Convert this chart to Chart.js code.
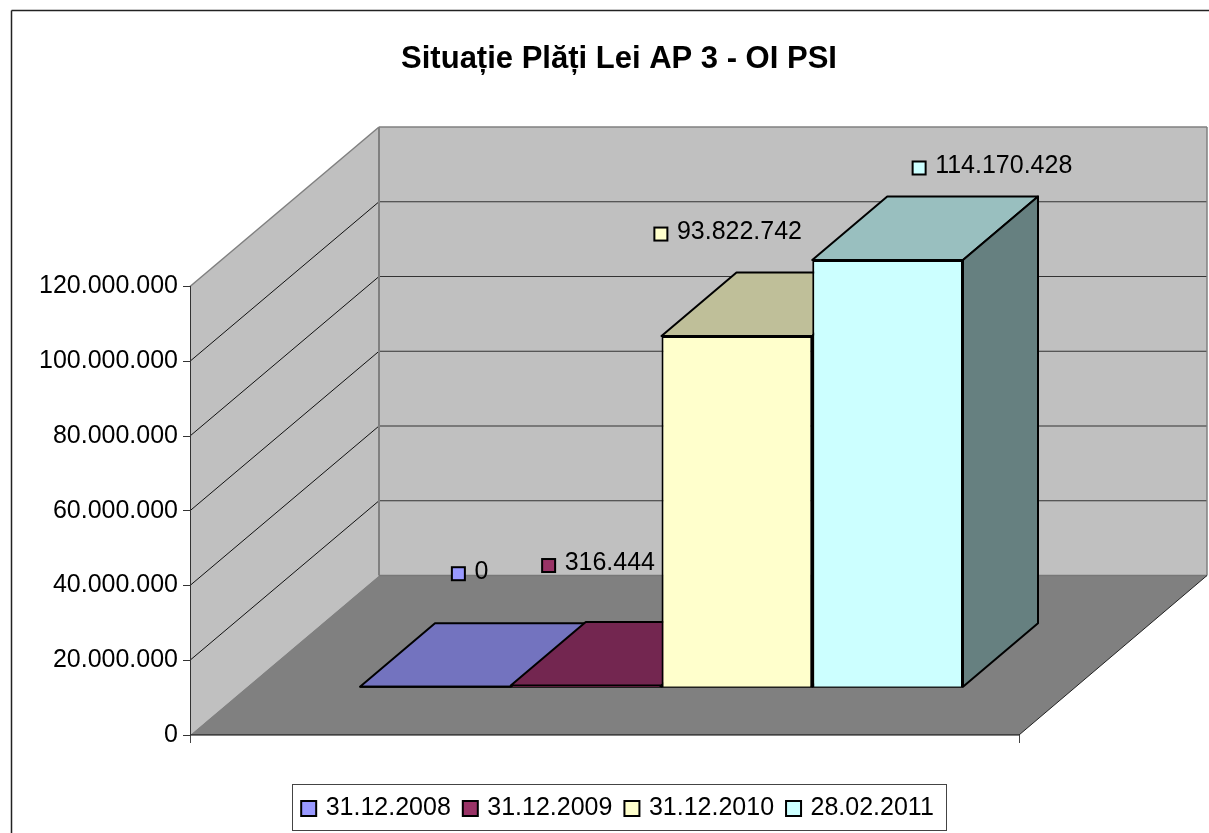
<!DOCTYPE html>
<html>
<head>
<meta charset="utf-8">
<script src="https://cdn.jsdelivr.net/npm/chart.js@4/dist/chart.umd.js"></script>
<style>html,body{margin:0;padding:0;background:#fff}canvas{display:block}</style>
</head>
<body>
<canvas id="c" width="1209" height="833"></canvas>
<script>
const titleText = 'Situație Plăți Lei AP 3 - OI PSI';
const category = ['Plăți'];
const seriesNames = ['31.12.2008', '31.12.2009', '31.12.2010', '28.02.2011'];
const seriesValues = [0, 316444, 93822742, 114170428];
const seriesColors = ['#9999FF', '#993366', '#FFFFCC', '#CCFFFF'];
const topColors = ['#7373BF', '#732650', '#BFBF99', '#99BFBF'];
const sideColors = ['#5C5C99', '#5C1F3D', '#99997A', '#668080'];
const axisMax = 120000000;
const axisStep = 20000000;

const FONT = '"Liberation Sans", Arial, sans-serif';
const WALL = {dx: 189, dy: -159.5, floorW: 829, backRight: 1207};
const BAR_DEPTH = {dx: 75, dy: -63.5};
const LABEL_OFFSETS = [[23, -113], [-37.5, -120], [-76, -102], [31.5, -92]];
const fmt = v => String(v).replace(/\B(?=(\d{3})+(?!\d))/g, '.');

function poly(ctx, pts, fill, stroke, lw) {
  ctx.beginPath();
  pts.forEach((p, i) => i ? ctx.lineTo(p[0], p[1]) : ctx.moveTo(p[0], p[1]));
  ctx.closePath();
  if (fill) { ctx.fillStyle = fill; ctx.fill(); }
  if (stroke) { ctx.strokeStyle = stroke; ctx.lineWidth = lw; ctx.stroke(); }
}
function line(ctx, x1, y1, x2, y2, color, lw) {
  ctx.beginPath(); ctx.moveTo(x1, y1); ctx.lineTo(x2, y2);
  ctx.strokeStyle = color; ctx.lineWidth = lw; ctx.stroke();
}

const scene = {
  id: 'scene',
  beforeDraw(chart) {
    const ctx = chart.ctx, y = chart.scales.y, x0 = y.right;
    y.left = 0; // the tick labels extend past the narrowed axis box
    const y0 = y.getPixelForValue(0), yT = y.getPixelForValue(axisMax);
    const bx = x0 + WALL.dx, dy = WALL.dy, br = WALL.backRight, fr = x0 + WALL.floorW;
    ctx.save();
    ctx.fillStyle = '#fff'; ctx.fillRect(0, 0, chart.width, chart.height);
    line(ctx, 11.5, 10.5, 1209, 10.5, '#222', 1.5);
    line(ctx, 11.5, 10.5, 11.5, 833, '#222', 1.5);
    // walls
    poly(ctx, [[x0, yT], [bx, yT + dy], [bx, y0 + dy], [x0, y0]], '#C0C0C0');
    poly(ctx, [[bx, yT + dy], [br, yT + dy], [br, y0 + dy], [bx, y0 + dy]], '#C0C0C0');
    // gridlines
    y.ticks.forEach(t => {
      if (t.value === 0 || t.value === axisMax) return;
      const p = y.getPixelForValue(t.value);
      line(ctx, x0, p, bx, p + dy, '#111', 1);
      line(ctx, bx, p + dy, br, p + dy, '#333', 1);
    });
    // floor
    poly(ctx, [[x0, y0], [fr, y0], [br, y0 + dy], [bx, y0 + dy]], '#808080');
    // wall outlines
    line(ctx, x0, yT, bx, yT + dy, '#808080', 1.5);
    line(ctx, bx, yT + dy, br, yT + dy, '#808080', 1.5);
    line(ctx, bx, yT + dy, bx, y0 + dy, '#808080', 2);
    line(ctx, bx, y0 + dy, br, y0 + dy, '#777', 1.5);
    line(ctx, br, yT + dy, br, y0 + dy, '#808080', 1.5);
    // floor edges + x ticks
    line(ctx, x0, y0, fr, y0, '#000', 1.2);
    line(ctx, fr, y0, br, y0 + dy, '#222', 1);
    line(ctx, x0 + .5, y0, x0 + .5, y0 + 8, '#444', 1);
    line(ctx, fr + .5, y0, fr + .5, y0 + 8, '#444', 1);
    // legend frame
    const boxes = chart.legend.legendHitBoxes;
    const l = Math.round(boxes[0].left - 12.5) + .5, r = Math.round(boxes[3].left + boxes[3].width + 12.5) + .5;
    ctx.strokeStyle = '#444'; ctx.lineWidth = 1;
    ctx.strokeRect(l, 784.5, r - l, 46);
    ctx.restore();
  },
  beforeDatasetsDraw(chart) {
    const ctx = chart.ctx;
    ctx.save(); ctx.lineJoin = 'round';
    const {dx, dy} = BAR_DEPTH;
    chart.data.datasets.forEach((d, i) => {
      const e = chart.getDatasetMeta(i).data[0];
      const l = e.x - e.width / 2, r = e.x + e.width / 2, t = e.y, b = e.base;
      poly(ctx, [[l, t], [l + dx, t + dy], [r + dx, t + dy], [r, t]], topColors[i], '#000', 2);
      if (b - t > 0.5 || i > 0) {
        poly(ctx, [[r, t], [r + dx, t + dy], [r + dx, b + dy], [r, b]], sideColors[i], '#000', 2);
      }
      line(ctx, l, b, r, b, '#000', 2);
    });
    ctx.restore();
  },
  afterDatasetsDraw(chart) {
    const ctx = chart.ctx;
    ctx.save();
    ctx.font = '25px ' + FONT; ctx.textBaseline = 'middle'; ctx.textAlign = 'left';
    chart.data.datasets.forEach((d, i) => {
      const e = chart.getDatasetMeta(i).data[0];
      const kx = e.x + LABEL_OFFSETS[i][0], ky = e.y + LABEL_OFFSETS[i][1];
      ctx.fillStyle = seriesColors[i]; ctx.strokeStyle = '#000'; ctx.lineWidth = 2;
      ctx.fillRect(kx - 6.5, ky - 6.5, 13, 13); ctx.strokeRect(kx - 6.5, ky - 6.5, 13, 13);
      ctx.fillStyle = '#000';
      ctx.fillText(fmt(d.data[0]), kx + 16, ky - 2);
    });
    ctx.restore();
  }
};

new Chart(document.getElementById('c'), {
  type: 'bar',
  plugins: [scene],
  data: {
    labels: category,
    datasets: seriesNames.map((n, i) => ({
      label: n,
      data: [seriesValues[i]],
      backgroundColor: seriesColors[i],
      borderColor: '#000',
      borderWidth: 2,
      pointStyle: 'rect',
      clip: false,
      yAxisID: 'yBars'
    }))
  },
  options: {
    responsive: false,
    animation: false,
    layout: {padding: {left: 105, right: 76, top: 0, bottom: 2}},
    scales: {
      x: {
        display: true,
        grid: {display: false},
        border: {display: false},
        ticks: {display: false},
        afterFit: s => { s.height = 46; }
      },
      y: {
        position: 'left',
        min: 0, max: axisMax,
        afterFit: s => { s.width = 85; },
        border: {color: '#333', width: 1},
        grid: {drawOnChartArea: false, drawTicks: true, tickLength: 7, color: '#333'},
        ticks: {
          stepSize: axisStep, padding: 5, color: '#000',
          font: {family: FONT, size: 25},
          callback: v => fmt(v)
        }
      },
      yBars: {
        display: false,
        min: -12920000, max: 107080000
      }
    },
    datasets: {bar: {barPercentage: 1, categoryPercentage: 603 / 943}},
    plugins: {
      tooltip: {enabled: false},
      title: {
        display: true, text: titleText, color: '#000',
        font: {family: FONT, size: 31, weight: 'bold'},
        padding: {top: 40.5, bottom: 208.8}
      },
      legend: {
        position: 'bottom',
        labels: {
          usePointStyle: true, boxWidth: 9, boxHeight: 15, padding: 15,
          color: '#000', font: {family: FONT, size: 25}
        }
      }
    }
  }
});
</script>
</body>
</html>
